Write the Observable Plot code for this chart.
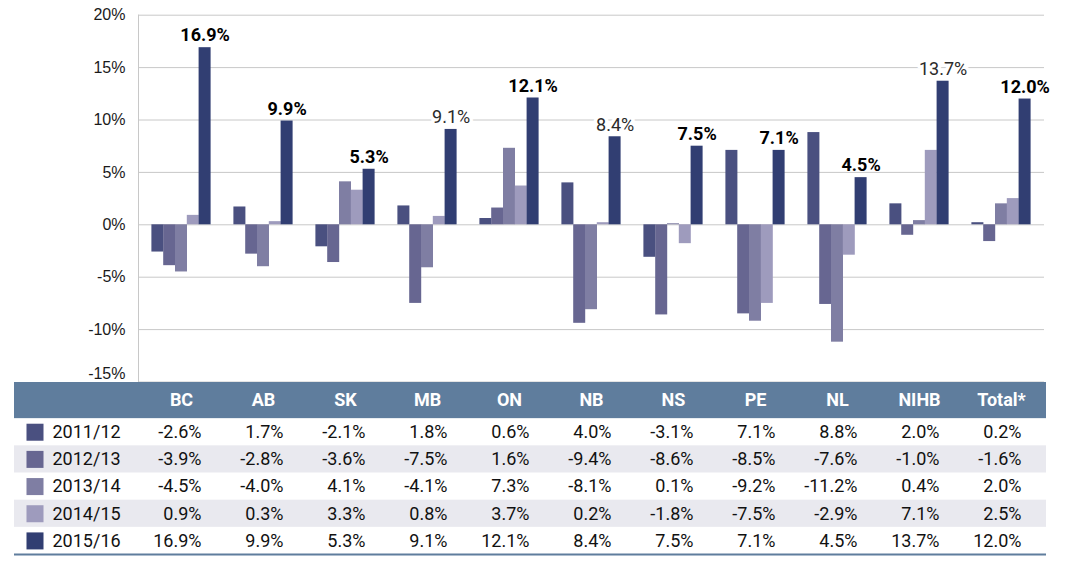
<!DOCTYPE html>
<html><head><meta charset="utf-8">
<script src="https://cdn.jsdelivr.net/npm/d3@7"></script>
<script src="https://cdn.jsdelivr.net/npm/@observablehq/plot@0.6"></script>
<style>
body{margin:0;background:#fff;}
#chart{width:1066px;}
#chart svg{display:block;}
</style></head><body><div id="chart"></div>
<script>
const regions = ["BC","AB","SK","MB","ON","NB","NS","PE","NL","NIHB","Total*"];
const years = ["2011/12","2012/13","2013/14","2014/15","2015/16"];
const v2011 = [-2.6, 1.7, -2.1, 1.8, 0.6, 4.0, -3.1, 7.1, 8.8, 2.0, 0.2];
const v2012 = [-3.9, -2.8, -3.6, -7.5, 1.6, -9.4, -8.6, -8.5, -7.6, -1.0, -1.6];
const v2013 = [-4.5, -4.0, 4.1, -4.1, 7.3, -8.1, 0.1, -9.2, -11.2, 0.4, 2.0];
const v2014 = [0.9, 0.3, 3.3, 0.8, 3.7, 0.2, -1.8, -7.5, -2.9, 7.1, 2.5];
const v2015 = [16.9, 9.9, 5.3, 9.1, 12.1, 8.4, 7.5, 7.1, 4.5, 13.7, 12.0];
const boldLabel = [true, true, true, false, true, false, true, true, true, false, true];
const colors = ["#4a5080", "#676691", "#7f7ea3", "#9e9bbd", "#313e72"];
const yTicks = [-15, -10, -5, 0, 5, 10, 15, 20];

const series = [v2011, v2012, v2013, v2014, v2015];
const rows = years.flatMap((yr, i) => regions.map((r, j) => ({year: yr, yi: i, region: r, value: series[i][j], bold: boldLabel[j]})));
const fmt = d => d.value.toFixed(1) + "%";
const BW = 11.8;
const xOpts = {domain: regions, paddingInner: 0.857, paddingOuter: 0.4285, axis: null};
const numFont = "Roboto, 'DejaVu Sans', sans-serif";

const chart = Plot.plot({
  width: 1066, height: 382, marginTop: 14.7, marginBottom: 0.5, marginLeft: 138, marginRight: 22,
  style: {fontFamily: "'Liberation Sans', Arial, sans-serif", fontSize: "16px", color: "#1a1a1a", background: "transparent"},
  x: xOpts,
  y: {domain: [-15, 20], axis: null},
  marks: [
    Plot.ruleY(yTicks, {stroke: "#c8c8c8", strokeWidth: 1}),
    Plot.frame({anchor: "left", stroke: "#c8c8c8"}),
    ...years.map((yr, i) => Plot.barY(rows.filter(d => d.yi === i), {x: "region", y: "value", fill: colors[i], dx: (i - 2) * BW})),
    Plot.text(rows.filter(d => d.yi === 4 && !d.bold), {x: "region", y: "value", dx: 2 * BW, dy: -12, text: fmt, fill: "#2a2a2a", stroke: "white", strokeWidth: 7, fontFamily: numFont, fontSize: 18}),
    Plot.text(rows.filter(d => d.yi === 4 && d.bold), {x: "region", y: "value", dx: 2 * BW, dy: -12, text: fmt, fill: "#000", fontWeight: "bold", fontFamily: numFont, fontSize: 18}),
    Plot.axisY(yTicks.filter(t => t > -15), {tickSize: 0, tickPadding: 13, tickFormat: d => d + "%", fontSize: 16, label: null}),
    Plot.axisY([-15], {tickSize: 0, tickPadding: 13, tickFormat: d => d + "%", fontSize: 16, label: null, dy: -8})
  ]
});

const tableRows = years.map((yr, i) => ({year: yr, row: i, color: colors[i]}));
const table = Plot.plot({
  width: 1066, height: 174, marginTop: 0, marginBottom: 2, marginLeft: 14, marginRight: 20,
  style: {fontFamily: numFont, background: "transparent"},
  x: {...xOpts, range: [138, 1044]},
  y: {domain: [-1.33, 5], reverse: true, axis: null},
  color: {type: "identity"},
  marks: [
    Plot.rect([0], {y1: -1.33, y2: 0, fill: "#5f7d9d"}),
    Plot.rect(tableRows.filter(d => d.row % 2 === 1), {y1: "row", y2: d => d.row + 1, fill: "#e9e9ef"}),
    Plot.ruleY([5], {stroke: "#5f7d9d", strokeWidth: 2}),
    Plot.text(regions, {x: d => d, y: -0.665, text: d => d, fill: "white", fontWeight: "bold", fontSize: 18}),
    Plot.dot(tableRows, {y: d => d.row + 0.5, frameAnchor: "left", dx: 20.5, symbol: "square", r: 9.6, fill: d => d.color, stroke: null}),
    Plot.text(tableRows, {y: d => d.row + 0.5, text: "year", frameAnchor: "left", dx: 38, textAnchor: "start", fill: "#111", fontSize: 18}),
    Plot.text(rows, {x: "region", y: d => d.yi + 0.5, text: fmt, textAnchor: "end", dx: 20, fill: "#111", fontSize: 18})
  ]
});

document.getElementById("chart").append(chart, table);
</script></body></html>
